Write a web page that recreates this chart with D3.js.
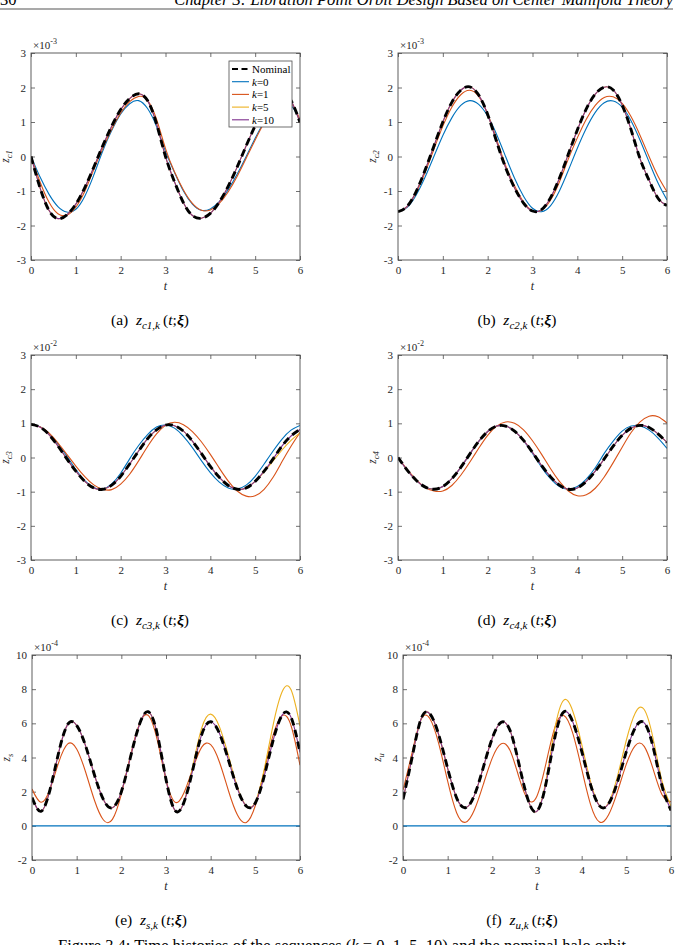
<!DOCTYPE html>
<meta charset="utf-8">
<script src="https://cdn.jsdelivr.net/npm/d3@7"></script>
<style>
    body { margin: 0; background: #fff; }
    svg text { font-family: "Liberation Serif", "Times New Roman", serif; fill: #000; }
    .axis path { display: none; }
    .axis line { stroke: #4d4d4d; stroke-width: 0.8; }
    .axis text { font-size: 11px; fill: #262626; }
    .frame { fill: none; stroke: #4d4d4d; stroke-width: 0.9; }
    .line { fill: none; stroke-width: 1.1; }
    .nominal { stroke-width: 2.9; stroke-dasharray: 7.5,4.5; }
</style>
<body>
<div id="chart"></div>
<script>

// sample times (every 0.2)
var tGrid = [0,0.2,0.4,0.6,0.8,1,1.2,1.4,1.6,1.8,2,2.2,2.4,2.6,2.8,3,3.2,3.4,3.6,3.8,4,4.2,4.4,4.6,4.8,5,5.2,5.4,5.6,5.8,6]
var xTicks = [0,1,2,3,4,5,6]
var yTicksC = [-3,-2,-1,0,1,2,3]
var yTicksSU = [-2,0,2,4,6,8,10]
var seriesNames = ["Nominal","k=0","k=1","k=5","k=10"]
var seriesColors = ["#000000","#0072BD","#D95319","#EDB120","#7E2F8E"]

// (a) z_c1  x1e-3
var c1Nominal = [0,-0.90,-1.56,-1.80,-1.69,-1.38,-0.90,-0.31,0.31,0.88,1.36,1.68,1.82,1.62,0.95,0,-0.73,-1.34,-1.71,-1.79,-1.65,-1.32,-0.86,-0.30,0.31,0.89,1.37,1.69,1.82,1.62,0.99]
var c1K0 = [0,-0.59,-1.09,-1.45,-1.61,-1.53,-1.15,-0.54,0.16,0.75,1.23,1.53,1.62,1.39,0.87,0.15,-0.46,-1.00,-1.38,-1.56,-1.52,-1.31,-0.96,-0.51,0,0.53,1.00,1.35,1.53,1.48,1.05]
var c1K1 = [0,-0.73,-1.32,-1.66,-1.70,-1.47,-1.01,-0.38,0.23,0.79,1.26,1.59,1.74,1.63,1.08,0.23,-0.44,-0.97,-1.36,-1.56,-1.55,-1.36,-1.02,-0.57,-0.05,0.48,0.97,1.35,1.57,1.55,1.08]
var c1K5 = c1Nominal
var c1K10 = c1Nominal

// (b) z_c2  x1e-3
var c2Nominal = [-1.60,-1.45,-1.03,-0.41,0.30,1.00,1.57,1.92,2.02,1.78,1.22,0.43,-0.32,-0.91,-1.35,-1.58,-1.54,-1.20,-0.63,0.07,0.77,1.38,1.81,2.01,1.93,1.49,0.77,-0.07,-0.69,-1.21,-1.42]
var c2K0 = [-1.60,-1.48,-1.13,-0.61,0,0.61,1.12,1.48,1.62,1.51,1.17,0.64,0,-0.63,-1.15,-1.50,-1.60,-1.43,-1.00,-0.40,0.24,0.82,1.28,1.56,1.61,1.43,1.03,0.47,-0.16,-0.77,-1.26]
var c2K1 = [-1.60,-1.46,-1.06,-0.47,0.21,0.88,1.43,1.79,1.92,1.74,1.23,0.50,-0.26,-0.85,-1.32,-1.57,-1.56,-1.27,-0.74,-0.07,0.54,1.08,1.48,1.71,1.73,1.54,1.15,0.61,0,-0.57,-1.02]
var c2K5 = c2Nominal
var c2K10 = c2Nominal

// (c) z_c3  x1e-2
var c3Nominal = [0.97,0.89,0.67,0.34,-0.04,-0.40,-0.70,-0.89,-0.93,-0.81,-0.55,-0.19,0.19,0.55,0.81,0.95,0.93,0.77,0.48,0.12,-0.26,-0.58,-0.82,-0.93,-0.89,-0.70,-0.40,-0.04,0.34,0.63,0.82]
var c3K0 = [0.97,0.90,0.70,0.40,0.04,-0.35,-0.68,-0.88,-0.92,-0.77,-0.46,-0.04,0.35,0.67,0.89,0.95,0.86,0.62,0.29,-0.09,-0.44,-0.72,-0.89,-0.92,-0.81,-0.55,-0.19,0.19,0.54,0.80,0.94]
var c3K1 = [0.97,0.90,0.72,0.43,0.09,-0.25,-0.56,-0.80,-0.93,-0.94,-0.78,-0.49,-0.10,0.32,0.69,0.94,1.03,0.96,0.76,0.46,0.09,-0.31,-0.69,-0.98,-1.13,-1.12,-0.93,-0.58,-0.12,0.33,0.73]
var c3K5 = [0.97,0.89,0.67,0.34,-0.04,-0.40,-0.70,-0.89,-0.93,-0.81,-0.55,-0.19,0.19,0.55,0.81,0.95,0.93,0.77,0.48,0.12,-0.26,-0.58,-0.82,-0.93,-0.89,-0.70,-0.42,-0.10,0.22,0.50,0.72]
var c3K10 = c3Nominal

// (d) z_c4  x1e-2
var c4Nominal = [0,-0.36,-0.66,-0.86,-0.93,-0.85,-0.62,-0.29,0.10,0.47,0.76,0.92,0.92,0.77,0.50,0.15,-0.23,-0.56,-0.81,-0.93,-0.89,-0.70,-0.40,-0.04,0.33,0.65,0.86,0.94,0.88,0.69,0.44]
var c4K0 = [0,-0.36,-0.66,-0.86,-0.93,-0.85,-0.62,-0.29,0.10,0.47,0.76,0.92,0.92,0.77,0.49,0.12,-0.28,-0.62,-0.85,-0.93,-0.85,-0.63,-0.30,0.12,0.48,0.77,0.92,0.92,0.80,0.57,0.27]
var c4K1 = [0,-0.34,-0.64,-0.87,-0.98,-0.98,-0.82,-0.52,-0.14,0.27,0.65,0.92,1.04,1.00,0.81,0.49,0.10,-0.32,-0.70,-0.98,-1.12,-1.09,-0.90,-0.57,-0.15,0.30,0.73,1.04,1.21,1.19,1.01]
var c4K5 = c4Nominal
var c4K10 = c4Nominal

// (e) z_s  x1e-4
var sNominal = [1.65,0.85,2.08,4.32,5.94,5.88,4.68,2.96,1.53,1.06,1.99,3.97,5.89,6.68,5.42,2.72,0.91,1.36,3.29,5.35,6.09,5.39,3.84,2.16,1.15,1.34,2.92,5.02,6.48,6.35,4.30]
var sK0 = [0,0,0,0,0,0,0,0,0,0,0,0,0,0,0,0,0,0,0,0,0,0,0,0,0,0,0,0,0,0,0]
var sK1 = [2.15,1.38,2.13,3.73,4.80,4.50,3.15,1.48,0.34,0.38,1.86,4.08,5.92,6.47,5.07,2.70,1.39,1.92,3.35,4.61,4.75,3.71,2.04,0.63,0.20,1.19,3.23,5.32,6.45,5.86,3.55]
var sK5 = [1.65,0.85,2.08,4.32,5.94,5.88,4.68,2.96,1.53,1.06,1.99,3.97,5.89,6.68,5.42,2.72,0.91,1.40,3.50,5.73,6.54,5.78,4.09,2.26,1.16,1.40,3.32,5.93,7.85,7.96,5.85]
var sK10 = sNominal

// (f) z_u  x1e-4
var uNominal = [1.55,3.96,6.23,6.56,5.33,3.36,1.64,1.06,1.80,3.44,5.14,6.06,5.56,3.58,1.52,0.86,2.46,5.18,6.67,6.09,4.38,2.40,1.17,1.28,2.56,4.34,5.74,6.03,4.61,2.32,0.90]
var uK0 = [0,0,0,0,0,0,0,0,0,0,0,0,0,0,0,0,0,0,0,0,0,0,0,0,0,0,0,0,0,0,0]
var uK1 = [2.10,4.24,6.19,6.28,4.81,2.61,0.77,0.21,0.94,2.44,3.98,4.81,4.39,2.81,1.52,1.75,3.64,5.76,6.46,5.43,3.34,1.24,0.22,0.63,1.99,3.61,4.70,4.65,3.32,1.82,1.40]
var uK5 = [1.55,3.96,6.23,6.56,5.33,3.36,1.64,1.06,1.80,3.44,5.14,6.06,5.56,3.58,1.52,0.86,2.65,5.70,7.36,6.72,4.79,2.57,1.18,1.34,2.88,5.01,6.61,6.81,5.11,2.60,1.15]
var uK10 = uNominal

var panels = [
    {tag: "a", sub: "c1", exp: "-3", dom: [-3, 3], ticks: yTicksC, data: [c1Nominal, c1K0, c1K1, c1K5, c1K10], box: [31, 300, 53, 260], legend: true},
    {tag: "b", sub: "c2", exp: "-3", dom: [-3, 3], ticks: yTicksC, data: [c2Nominal, c2K0, c2K1, c2K5, c2K10], box: [398, 667, 53, 260]},
    {tag: "c", sub: "c3", exp: "-2", dom: [-3, 3], ticks: yTicksC, data: [c3Nominal, c3K0, c3K1, c3K5, c3K10], box: [31, 300, 355, 560]},
    {tag: "d", sub: "c4", exp: "-2", dom: [-3, 3], ticks: yTicksC, data: [c4Nominal, c4K0, c4K1, c4K5, c4K10], box: [398, 667, 355, 560]},
    {tag: "e", sub: "s", exp: "-4", dom: [-2, 10], ticks: yTicksSU, data: [sNominal, sK0, sK1, sK5, sK10], box: [32, 300, 655, 860]},
    {tag: "f", sub: "u", exp: "-4", dom: [-2, 10], ticks: yTicksSU, data: [uNominal, uK0, uK1, uK5, uK10], box: [403, 671, 655, 860]}
]

var W = 680, H = 945
var svg = d3.select("#chart").append("svg").attr("width", W).attr("height", H)
svg.append("rect").attr("width", W).attr("height", H).attr("fill", "#fff")

// page header (only its lower part shows at the top edge)
svg.append("text").attr("x", 0).attr("y", 5).style("font-size", "16.5px").text("30")
svg.append("text").attr("x", 673).attr("y", 5).attr("text-anchor", "end").style("font-size", "16.5px").style("font-style", "italic")
    .text("Chapter 3: Libration Point Orbit Design Based on Center Manifold Theory")
svg.append("line").attr("x1", 0).attr("x2", 673).attr("y1", 9).attr("y2", 9).attr("stroke", "#555").attr("stroke-width", 1.2)

panels.forEach(function(p, pi) {
    var x0 = p.box[0], x1 = p.box[1], y0 = p.box[2], y1 = p.box[3]
    var x = d3.scaleLinear().domain([0, 6]).range([x0, x1])
    var y = d3.scaleLinear().domain(p.dom).range([y1, y0])
    var g = svg.append("g").attr("class", "panel-" + p.tag)

    g.append("clipPath").attr("id", "clip" + pi).append("rect")
        .attr("x", x0).attr("y", y0).attr("width", x1 - x0).attr("height", y1 - y0)

    // axes, ticks pointing inward on all four sides
    g.append("g").attr("class", "axis").attr("transform", "translate(0," + y1 + ")")
        .call(d3.axisBottom(x).tickValues(xTicks).tickSize(-4).tickPadding(6).tickFormat(function(d) { return String(d) }))
    g.append("g").attr("class", "axis").attr("transform", "translate(0," + y0 + ")")
        .call(d3.axisTop(x).tickValues(xTicks).tickSize(-4).tickFormat(""))
    g.append("g").attr("class", "axis").attr("transform", "translate(" + x0 + ",0)")
        .call(d3.axisLeft(y).tickValues(p.ticks).tickSize(-4).tickPadding(5).tickFormat(function(d) { return String(d) }))
    g.append("g").attr("class", "axis").attr("transform", "translate(" + x1 + ",0)")
        .call(d3.axisRight(y).tickValues(p.ticks).tickSize(-4).tickFormat(""))

    var line = d3.line().x(function(d, i) { return x(tGrid[i]) }).y(function(d) { return y(d) }).curve(d3.curveNatural)
    var lines = g.append("g").attr("clip-path", "url(#clip" + pi + ")")
    // coloured runs first, nominal dashed curve on top
    ;[1, 2, 3, 4, 0].forEach(function(si) {
        lines.append("path").datum(p.data[si])
            .attr("class", si == 0 ? "line nominal" : "line")
            .attr("stroke", seriesColors[si])
            .attr("d", line)
    })

    g.append("rect").attr("class", "frame").attr("x", x0).attr("y", y0).attr("width", x1 - x0).attr("height", y1 - y0)

    // x10^n factor
    var ex = g.append("text").attr("x", x0 + 2).attr("y", y0 - 4).style("font-size", "11px").style("fill", "#262626")
    ex.append("tspan").text("\u00d710")
    ex.append("tspan").attr("dy", -5).style("font-size", "8px").text(p.exp)

    // axis labels
    g.append("text").attr("x", (x0 + x1) / 2).attr("y", y1 + 30).attr("text-anchor", "middle")
        .style("font-size", "12px").style("font-style", "italic").style("fill", "#262626").text("t")
    var yl = g.append("text").attr("transform", "translate(" + (x0 - 22) + "," + ((y0 + y1) / 2) + ") rotate(-90)")
        .attr("text-anchor", "middle").style("font-size", "11.5px").style("font-style", "italic").style("fill", "#262626")
    yl.append("tspan").text("z")
    yl.append("tspan").attr("dy", 3).style("font-size", "8.5px").text(p.sub)

    // sub caption
    var cap = g.append("text").attr("x", x0 + 119).attr("y", y1 + 65).attr("text-anchor", "middle").style("font-size", "15.5px")
    cap.append("tspan").text("(" + p.tag + ")\u2002")
    cap.append("tspan").style("font-style", "italic").text("z")
    cap.append("tspan").attr("dy", 4).style("font-size", "11px").style("font-style", "italic").text(p.sub + ",k")
    cap.append("tspan").attr("dy", -4).text("\u2009(")
    cap.append("tspan").style("font-style", "italic").text("t")
    cap.append("tspan").text(";")
    cap.append("tspan").style("font-style", "italic").style("font-weight", "bold").text("\u03be")
    cap.append("tspan").text(")")

    if (p.legend) {
        var lx = x1 - 71, ly = y0 + 8
        g.append("rect").attr("x", lx).attr("y", ly).attr("width", 63).attr("height", 66)
            .attr("fill", "#fff").attr("stroke", "#4d4d4d").attr("stroke-width", 0.8)
        seriesNames.forEach(function(name, i) {
            var yy = ly + 8 + i * 12.7
            g.append("line").attr("x1", lx + 3).attr("x2", lx + 20).attr("y1", yy).attr("y2", yy)
                .attr("stroke", seriesColors[i])
                .attr("stroke-width", i == 0 ? 2.2 : 1.1)
                .attr("stroke-dasharray", i == 0 ? "6,3.5" : null)
            var tx = g.append("text").attr("x", lx + 23).attr("y", yy + 4).style("font-size", "11px")
            if (i == 0) tx.text(name)
            else {
                tx.append("tspan").style("font-style", "italic").text("k")
                tx.append("tspan").text(name.slice(1))
            }
        })
    }
})

// figure caption (only its upper part shows at the bottom edge)
var fc = svg.append("text").attr("x", 342).attr("y", 951).attr("text-anchor", "middle").style("font-size", "16.5px")
fc.append("tspan").text("Figure 3.4: Time histories of the sequences (")
fc.append("tspan").style("font-style", "italic").text("k")
fc.append("tspan").text(" = 0, 1, 5, 10) and the nominal halo orbit")

</script>
</body>
</html>
